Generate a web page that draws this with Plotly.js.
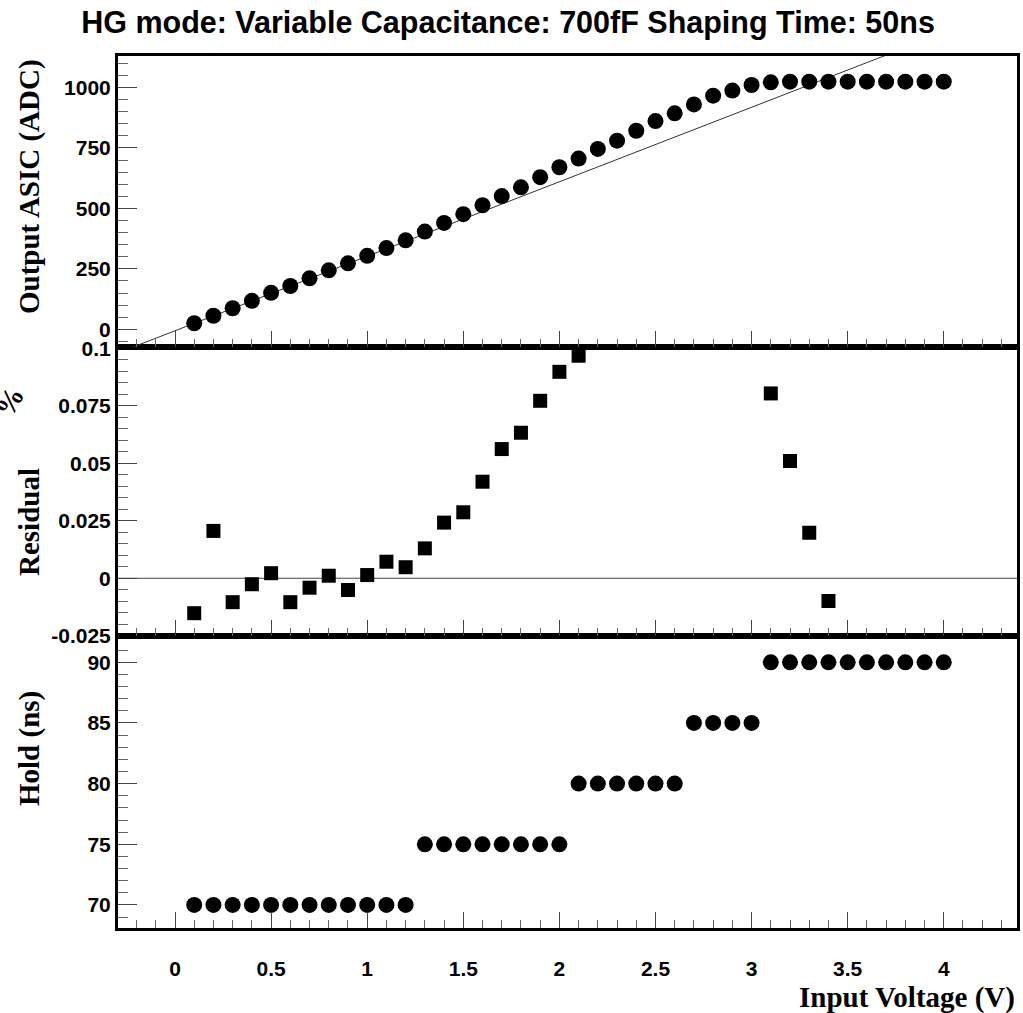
<!DOCTYPE html>
<html>
<head>
<meta charset="utf-8">
<script src="https://cdn.plot.ly/plotly-3.0.1.min.js"></script>
<style>html,body{margin:0;padding:0;background:#fff;}#chart{width:1023px;height:1013px;}</style>
</head>
<body>
<div id="chart"></div>
<script>
// ---- data ----
const voltage = [0.1,0.2,0.3,0.4,0.5,0.6,0.7,0.8,0.9,1.0,1.1,1.2,1.3,1.4,1.5,1.6,1.7,1.8,1.9,2.0,
                 2.1,2.2,2.3,2.4,2.5,2.6,2.7,2.8,2.9,3.0,3.1,3.2,3.3,3.4,3.5,3.6,3.7,3.8,3.9,4.0];
const outputADC = [25,56,87,118,151,179,211,244,273,304,336,368,404,440,476,513,551,587,629,670,
                   706,746,780,821,861,893,930,966,987,1010,1021,1024,1024,1024,1024,1024,1024,1024,1024,1024];
const fitSlope = 308;      // ADC per V
const fitIntercept = -6;   // ADC
const fitRange = [-0.3, 4.4];

const residualV = [0.1,0.2,0.3,0.4,0.5,0.6,0.7,0.8,0.9,1.0,1.1,1.2,1.3,1.4,1.5,1.6,1.7,1.8,1.9,2.0,2.1,3.1,3.2,3.3,3.4];
const residual = [-0.0152,0.0206,-0.0104,-0.0026,0.0022,-0.0104,-0.0041,0.0011,-0.0051,0.0014,0.0072,0.0048,
                  0.0130,0.0242,0.0287,0.0420,0.0562,0.0633,0.0772,0.0898,0.0968,0.0804,0.0510,0.0198,-0.0099];

const holdNs = [70,70,70,70,70,70,70,70,70,70,70,70,75,75,75,75,75,75,75,75,
                80,80,80,80,80,80,85,85,85,85,90,90,90,90,90,90,90,90,90,90];

const xTickVals = [0,0.5,1,1.5,2,2.5,3,3.5,4];
const xTickText = ['0','0.5','1','1.5','2','2.5','3','3.5','4'];
const adcTickVals = [0,250,500,750,1000];
const adcTickText = ['0','250','500','750','1000'];
const resTickVals = [-0.025,0,0.025,0.05,0.075,0.1];
const resTickText = ['-0.025','0','0.025','0.05','0.075','0.1'];
const holdTickVals = [70,75,80,85,90];
const holdTickText = ['70','75','80','85','90'];

// ---- styling ----
const tickFont = {family:'Liberation Sans, Arial, sans-serif', size:21, color:'#000', weight:'bold'};
const serifBold = {family:'Liberation Serif, Times New Roman, serif', size:29, color:'#000', weight:'bold'};
const xRange = [-0.2966, 4.381];

function xAxis(anchor, showLabels){
  return {
    anchor: anchor, range: xRange, showgrid:false, zeroline:false,
    showline:true, linewidth:3, linecolor:'#000', mirror:true,
    ticks:'inside', ticklen:16, tickwidth:1, tickcolor:'#444',
    tickmode:'array', tickvals:xTickVals, ticktext:xTickText,
    showticklabels: showLabels, tickfont: tickFont, ticklabelstandoff: 20,
    minor:{ticks:'inside', ticklen:8, tickwidth:1, tickcolor:'#666', dtick:0.1, tick0:0, showgrid:false}
  };
}
function yAxis(domain, range, tv, tt, minorDtick, minorTick0){
  return {
    anchor: domain.anchor, domain: domain.d, range: range, showgrid:false, zeroline:false,
    showline:true, linewidth:3, linecolor:'#000', mirror:true,
    ticks:'inside', ticklen:19, tickwidth:1, tickcolor:'#444',
    tickmode:'array', tickvals:tv, ticktext:tt, tickfont: tickFont, ticklabelstandoff: 0,
    minor:{ticks:'inside', ticklen:10, tickwidth:1, tickcolor:'#666', dtick:minorDtick, tick0:minorTick0, showgrid:false}
  };
}

const fitX = fitRange.slice();
const fitY = fitX.map(v => fitIntercept + fitSlope*v);

const traces = [
  {x: fitX, y: fitY, xaxis:'x3', yaxis:'y3', mode:'lines', line:{color:'#333', width:1}, hoverinfo:'skip'},
  {x: voltage, y: outputADC, xaxis:'x3', yaxis:'y3', mode:'markers',
   marker:{symbol:'circle', size:16, color:'#000'}, cliponaxis:false},
  {x: residualV, y: residual, xaxis:'x2', yaxis:'y2', mode:'markers',
   marker:{symbol:'square', size:14, color:'#000'}, cliponaxis:false},
  {x: voltage, y: holdNs, xaxis:'x', yaxis:'y', mode:'markers',
   marker:{symbol:'circle', size:16, color:'#000'}, cliponaxis:false}
];

const layout = {
  width:1023, height:1013, showlegend:false,
  paper_bgcolor:'#fff', plot_bgcolor:'#fff',
  margin:{l:118, r:6, t:56, b:85, pad:0},
  title:{text:'HG mode: Variable Capacitance: 700fF Shaping Time: 50ns',
         font:{family:'Liberation Sans, Arial, sans-serif', size:30.5, color:'#000', weight:'bold'},
         xref:'container', x:0.4966, xanchor:'center', yref:'container', y:0.978, yanchor:'middle'},
  xaxis: xAxis('y', true),
  xaxis2: Object.assign(xAxis('y2', false), {matches:'x'}),
  xaxis3: Object.assign(xAxis('y3', false), {matches:'x'}),
  yaxis: yAxis({anchor:'x', d:[0, 0.3349]}, [68.1, 92.17], holdTickVals, holdTickText, 1, 0),
  yaxis2: yAxis({anchor:'x2', d:[0.3349, 0.6663]}, [-0.0251, 0.1006], resTickVals, resTickText, 0.005, 0),
  yaxis3: yAxis({anchor:'x3', d:[0.6663, 1]}, [-73, 1130], adcTickVals, adcTickText, 50, 0),
  shapes:[
    {type:'line', xref:'x2 domain', x0:0, x1:1, yref:'y2', y0:0, y1:0, line:{color:'#444', width:1}, layer:'below'}
  ],
  annotations:[
    {text:'Output ASIC (ADC)', textangle:-90, font:serifBold, showarrow:false,
     xref:'paper', yref:'paper', x:(29-118)/899, y:(928-187)/872, xanchor:'center', yanchor:'middle'},
    {text:'Residual', textangle:-90, font:serifBold, showarrow:false,
     xref:'paper', yref:'paper', x:(29-118)/899, y:(928-522)/872, xanchor:'center', yanchor:'middle'},
    {text:'%', textangle:-60, font:serifBold, showarrow:false,
     xref:'paper', yref:'paper', x:(9-118)/899, y:(928-402)/872, xanchor:'center', yanchor:'middle'},
    {text:'Hold (ns)', textangle:-90, font:serifBold, showarrow:false,
     xref:'paper', yref:'paper', x:(29-118)/899, y:(928-749)/872, xanchor:'center', yanchor:'middle'},
    {text:'Input Voltage (V)', font:serifBold, showarrow:false,
     xref:'paper', yref:'paper', x:1, y:(928-997)/872, xanchor:'right', yanchor:'middle'}
  ]
};

Plotly.newPlot('chart', traces, layout, {staticPlot:true, displayModeBar:false});
</script>
</body>
</html>
